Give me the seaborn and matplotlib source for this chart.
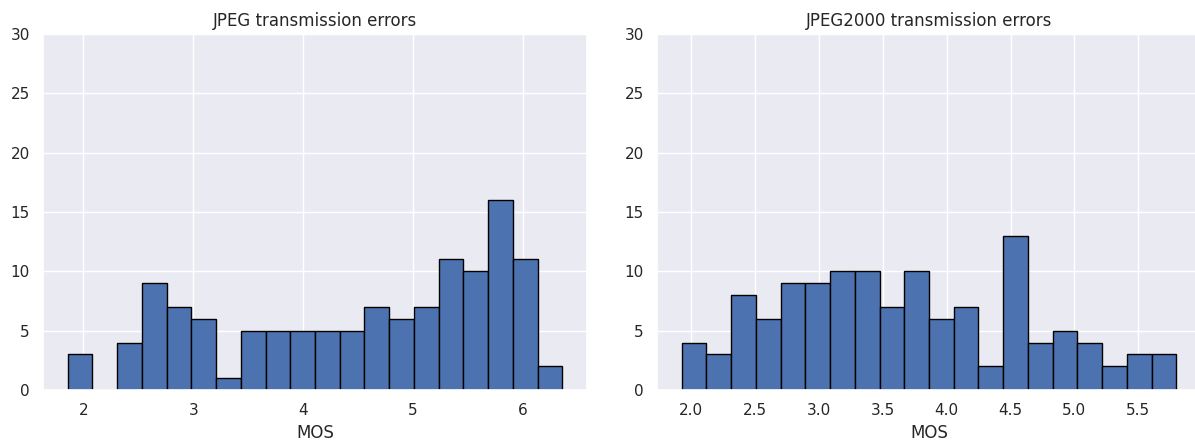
import numpy as np
import pandas as pd
import matplotlib
matplotlib.use("Agg")
import matplotlib.pyplot as plt
import seaborn as sns

# JPEG transmission errors histogram (20 bins)
jpeg_range = (1.857, 6.357)
jpeg_counts = [3, 0, 4, 9, 7, 6, 1, 5, 5, 5, 5, 5, 7, 6, 7, 11, 10, 16, 11, 2]

# JPEG2000 transmission errors histogram (20 bins)
j2k_range = (1.927, 5.797)
j2k_counts = [4, 3, 8, 6, 9, 9, 10, 10, 7, 10, 6, 7, 2, 13, 4, 5, 4, 2, 3, 3]

titles = ["JPEG transmission errors", "JPEG2000 transmission errors"]
xlabel = "MOS"
yticks = [0, 5, 10, 15, 20, 25, 30]

sns.set_theme(style="darkgrid")

fig = plt.figure(figsize=(11.95, 4.4), dpi=100)
ax1 = fig.add_axes([43 / 1195, 50 / 440, 544 / 1195, 356 / 440])
ax2 = fig.add_axes([657 / 1195, 50 / 440, 544 / 1195, 356 / 440])

for ax, rng, counts, title in [
    (ax1, jpeg_range, jpeg_counts, titles[0]),
    (ax2, j2k_range, j2k_counts, titles[1]),
]:
    n = len(counts)
    edges = np.linspace(rng[0], rng[1], n + 1)
    centers = (edges[:-1] + edges[1:]) / 2
    df = pd.DataFrame({"MOS": centers, "count": counts})
    sns.histplot(data=df, x="MOS", weights="count", bins=n, binrange=rng, ax=ax,
                 color="#4C72B0", alpha=1.0, edgecolor="black", linewidth=1.0)
    ax.set_xlim(rng[0] - 0.05 * (rng[1] - rng[0]), rng[1] + 0.05 * (rng[1] - rng[0]))
    ax.set_ylim(0, 30)
    ax.set_yticks(yticks)
    ax.set_ylabel("")
    ax.set_xlabel(xlabel)
    ax.set_title(title)

fig.savefig("out.png", dpi=100)
